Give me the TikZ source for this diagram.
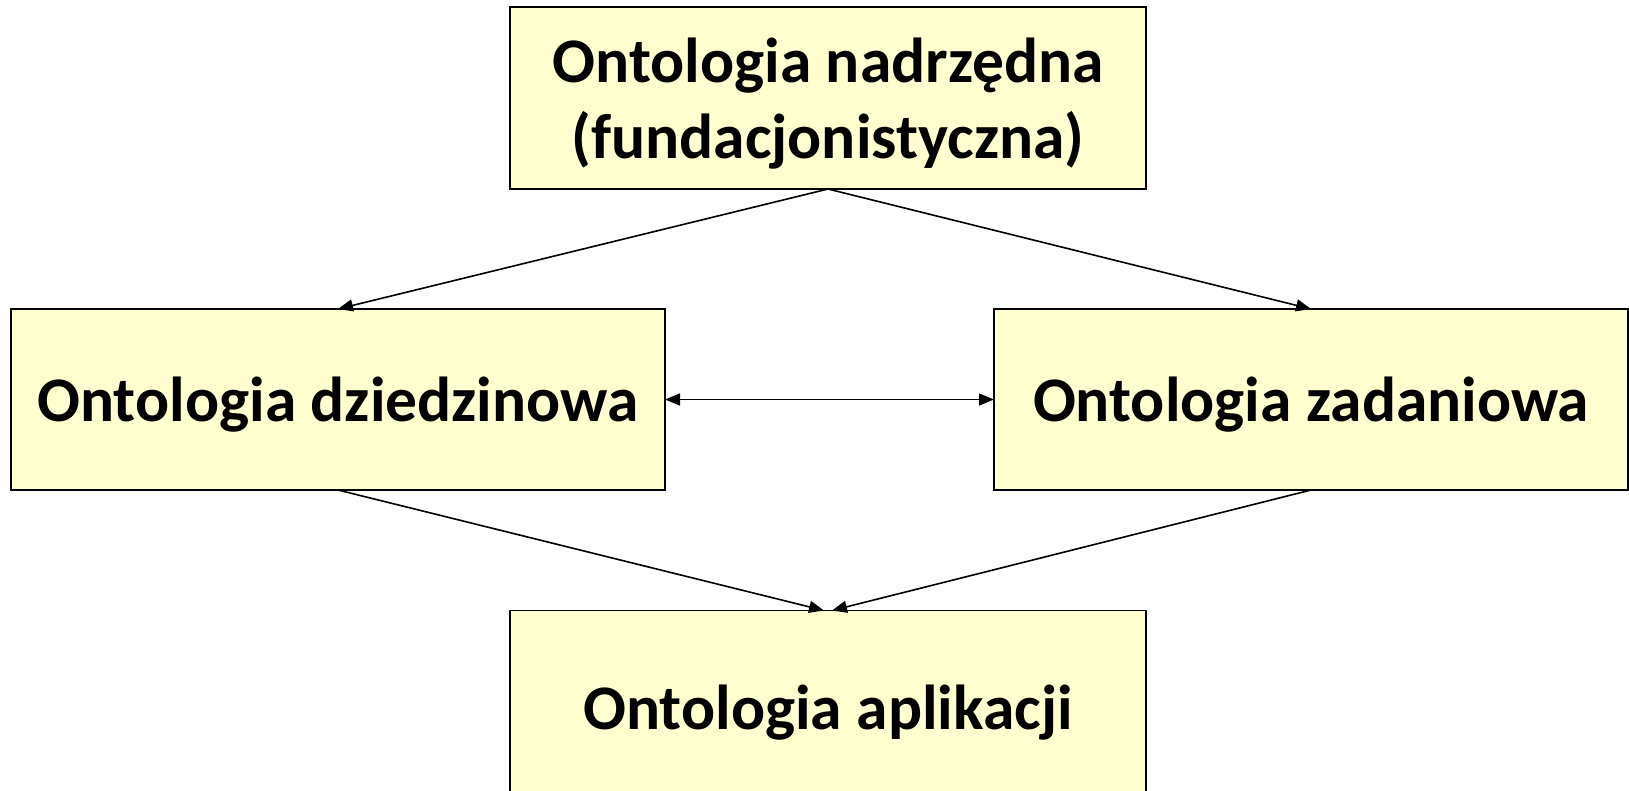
\documentclass[tikz,border=0pt]{standalone}
\usepackage{fontspec}
\setmainfont{Carlito}
\usetikzlibrary{arrows.meta}
\definecolor{boxfill}{RGB}{255,255,208}
\tikzset{
  obox/.style={draw=black, line width=1.6pt, fill=boxfill, inner sep=0pt, outer sep=0pt,
    align=center, text depth=0pt, font=\fontsize{63.5}{76}\selectfont\bfseries},
  conn/.style={line width=1.6pt, -{Triangle[length=15pt,width=12pt]}},
  biconn/.style={line width=1.6pt, {Triangle[length=15pt,width=12pt]}-{Triangle[length=15pt,width=12pt]}}
}
\begin{document}
\begin{tikzpicture}[x=1pt,y=-1pt]
\useasboundingbox (0,0) rectangle (1629,790);
\node[obox, minimum width=636pt, minimum height=182pt] (top) at (828,98) {Ontologia nadrzędna\\(fundacjonistyczna)};
\node[obox, minimum width=654pt, minimum height=181pt] (left) at (338,399.5) {Ontologia dziedzinowa};
\node[obox, minimum width=634pt, minimum height=181pt] (right) at (1311,399.5) {Ontologia zadaniowa};
\node[obox, minimum width=636pt, minimum height=193pt] (bottom) at (828,707) {Ontologia aplikacji};
\coordinate (bl) at ([xshift=-4pt]bottom.north);
\coordinate (br) at ([xshift=4pt]bottom.north);
\draw[conn] (top.south) -- (left.north);
\draw[conn] (top.south) -- (right.north);
\draw[biconn] (left.east) -- (right.west);
\draw[conn] (left.south) -- (bl);
\draw[conn] (right.south) -- (br);
\end{tikzpicture}
\end{document}
